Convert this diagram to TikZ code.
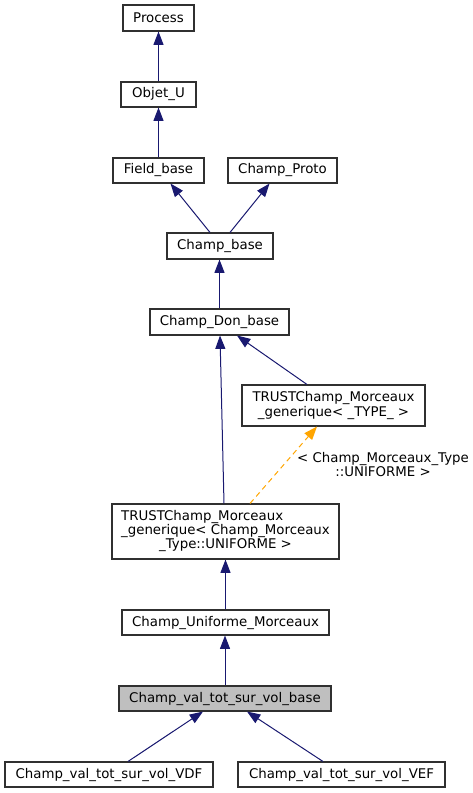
\documentclass[tikz,border=0pt]{standalone}
\usepackage{fontspec}
\setmainfont{DejaVu Sans}
\usetikzlibrary{arrows.meta}
\definecolor{edgeblue}{HTML}{191970}
\definecolor{edgeorange}{HTML}{FFA500}
\definecolor{nodeborder}{HTML}{303030}
\definecolor{nodegrey}{HTML}{BFBFBF}
\tikzset{
  box/.style={draw=nodeborder, line width=0.8pt, fill=white, inner sep=0pt, align=center,
    font=\fontsize{10}{10.75}\selectfont, minimum height=0.75pt*25},
  edge/.style={draw=edgeblue, line width=0.75pt, -{Triangle[length=10pt,width=7.5pt]}},
  tedge/.style={draw=edgeorange, line width=0.75pt, dash pattern=on 4pt off 3pt, -{Triangle[length=10pt,width=7.5pt]}},
  lbl/.style={font=\fontsize{10}{10.75}\selectfont, align=center, inner sep=0pt}
}
\begin{document}
\begin{tikzpicture}[x={(0.75pt,0)}, y={(0,-0.75pt)}]
\useasboundingbox (0,0) rectangle (473,793);
\node[box, minimum width=0.75pt*71, minimum height=0.75pt*26] (proc) at (158.5,18) {Process};
\node[box, minimum width=0.75pt*75] (obj) at (158.5,94.5) {Objet\_U};
\node[box, minimum width=0.75pt*91] (fb) at (158.5,170.5) {Field\_base};
\node[box, minimum width=0.75pt*109] (cp) at (282.5,170.5) {Champ\_Proto};
\node[box, minimum width=0.75pt*106, minimum height=0.75pt*26] (cb) at (220,246) {Champ\_base};
\node[box, minimum width=0.75pt*139, minimum height=0.75pt*26] (cdb) at (219.5,322) {Champ\_Don\_base};
\node[box, minimum width=0.75pt*183, minimum height=0.75pt*41] (typ) at (333.5,405.5) {TRUSTChamp\_Morceaux\\\_generique< \_TYPE\_ >};
\node[box, minimum width=0.75pt*227, minimum height=0.75pt*55] (uni) at (225.5,531.5)
  {\begin{tabular}{@{}l@{}}TRUSTChamp\_Morceaux\\\_generique< Champ\_Morceaux\\\multicolumn{1}{@{}c@{}}{\_Type::UNIFORME >}\end{tabular}};
\node[box, minimum width=0.75pt*207] (cum) at (225.5,622.5) {Champ\_Uniforme\_Morceaux};
\node[box, fill=nodegrey, minimum width=0.75pt*212] (base) at (225,698.5) {Champ\_val\_tot\_sur\_vol\_base};
\node[box, minimum width=0.75pt*208] (vdf) at (109,774.5) {Champ\_val\_tot\_sur\_vol\_VDF};
\node[box, minimum width=0.75pt*207] (vef) at (341.5,774.5) {Champ\_val\_tot\_sur\_vol\_VEF};
\node[lbl] (tl) at (383,464.5) {< Champ\_Morceaux\_Type\\::UNIFORME >};

\draw[edge] (obj.north) -- (proc.south);
\draw[edge] (fb.north) -- (obj.south);
\draw[edge] ([xshift=-7.5pt]cb.north) -- ([xshift=0.75pt*12]fb.south);
\draw[edge] ([xshift=7.5pt]cb.north) -- ([xshift=-0.75pt*13]cp.south);
\draw[edge] (cdb.north) -- (cdb.north |- cb.south);
\draw[edge] ([xshift=-0.75pt*1.5]uni.north) -- ([xshift=0.75pt*0.5]cdb.south);
\draw[edge] ([xshift=-0.75pt*26.5]typ.north) -- ([xshift=0.75pt*17.5]cdb.south);
\draw[tedge] ([xshift=0.75pt*24.5]uni.north) -- ([xshift=-0.75pt*16.5]typ.south);
\draw[edge] (cum.north) -- (cum.north |- uni.south);
\draw[edge] (base.north) -- (base.north |- cum.south);
\draw[edge] ([xshift=0.75pt*19]vdf.north) -- ([xshift=-0.75pt*22]base.south);
\draw[edge] ([xshift=-0.75pt*18.5]vef.north) -- ([xshift=0.75pt*22]base.south);
\end{tikzpicture}
\end{document}
